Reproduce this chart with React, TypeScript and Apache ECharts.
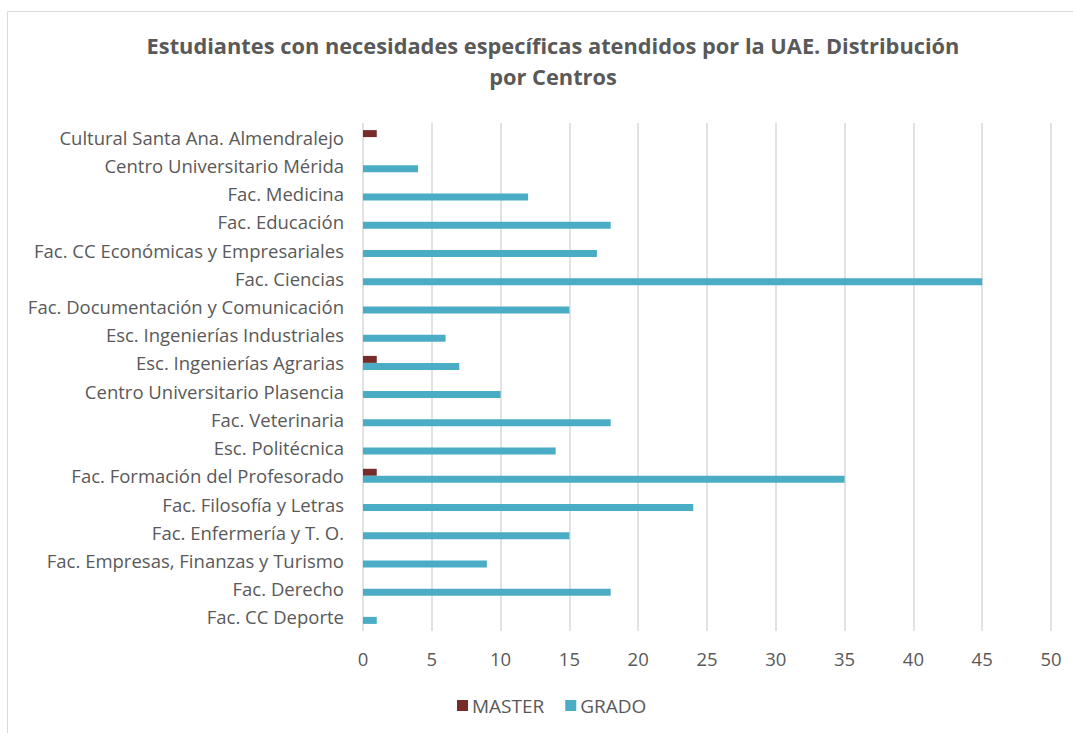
import React, { useEffect, useRef } from "react";
import * as echarts from "echarts";

const categories = [
  "Cultural Santa Ana. Almendralejo",
  "Centro Universitario Mérida",
  "Fac. Medicina",
  "Fac. Educación",
  "Fac. CC Económicas y Empresariales",
  "Fac. Ciencias",
  "Fac. Documentación y Comunicación",
  "Esc. Ingenierías Industriales",
  "Esc. Ingenierías Agrarias",
  "Centro Universitario Plasencia",
  "Fac. Veterinaria",
  "Esc. Politécnica",
  "Fac. Formación del Profesorado",
  "Fac. Filosofía y Letras",
  "Fac. Enfermería y T. O.",
  "Fac. Empresas, Finanzas y Turismo",
  "Fac. Derecho",
  "Fac. CC Deporte",
];

const masterValues = [1, null, null, null, null, null, null, null, 1, null, null, null, 1, null, null, null, null, null];
const gradoValues = [null, 4, 12, 18, 17, 45, 15, 6, 7, 10, 18, 14, 35, 24, 15, 9, 18, 1];

const xTicks = { min: 0, max: 50, interval: 5 };

const title = "Estudiantes con necesidades específicas atendidos por la UAE. Distribución\npor Centros";

export default function App() {
  const ref = useRef<HTMLDivElement>(null);
  useEffect(() => {
    if (!ref.current) return;
    const chart = echarts.init(ref.current, null, { renderer: "svg" });
    const font = "'Open Sans', sans-serif";
    chart.setOption({
      animation: false,
      backgroundColor: "#ffffff",
      textStyle: { fontFamily: font },
      title: {
        text: title,
        left: 548,
        textAlign: "center",
        top: 25,
        textStyle: {
          fontFamily: font,
          fontSize: 21.8,
          fontWeight: "bold",
          color: "#595959",
          lineHeight: 31,
        },
      },
      graphic: [
        {
          type: "rect",
          shape: { x: 7.5, y: 11.5, width: 1200, height: 900 },
          style: { fill: "none", stroke: "#d9d9d9", lineWidth: 1 },
          silent: true,
        },
      ],
      legend: {
        bottom: 13,
        left: 452,
        itemWidth: 11,
        itemHeight: 11,
        itemGap: 21,
        icon: "rect",
        textStyle: { fontFamily: font, fontSize: 19, color: "#595959", padding: [0, 0, 0, -1] },
        data: ["MASTER", "GRADO"],
      },
      grid: { left: 363, right: 22, top: 123, bottom: 102, containLabel: false },
      xAxis: {
        type: "value",
        min: xTicks.min,
        max: xTicks.max,
        interval: xTicks.interval,
        axisLine: { show: false },
        axisTick: { show: false },
        axisLabel: { fontFamily: font, fontSize: 18.5, color: "#595959", margin: 18 },
        splitLine: { lineStyle: { color: "#d9d9d9", width: 1.5 } },
      },
      yAxis: {
        type: "category",
        inverse: true,
        data: categories,
        axisLine: { show: false },
        axisTick: { show: false },
        axisLabel: { fontFamily: font, fontSize: 18.5, color: "#595959", margin: 19 },
      },
      series: [
        {
          name: "MASTER",
          type: "bar",
          data: masterValues,
          barWidth: 7,
          barGap: "0%",
          itemStyle: { color: "#772C2A" },
        },
        {
          name: "GRADO",
          type: "bar",
          data: gradoValues,
          barWidth: 7,
          barGap: "0%",
          itemStyle: { color: "#4BACC6" },
        },
      ],
    });
    return () => chart.dispose();
  }, []);
  return (
    <div
      ref={ref}
      style={{ position: "absolute", left: 0, top: 0, width: 1073, height: 733 }}
    />
  );
}
